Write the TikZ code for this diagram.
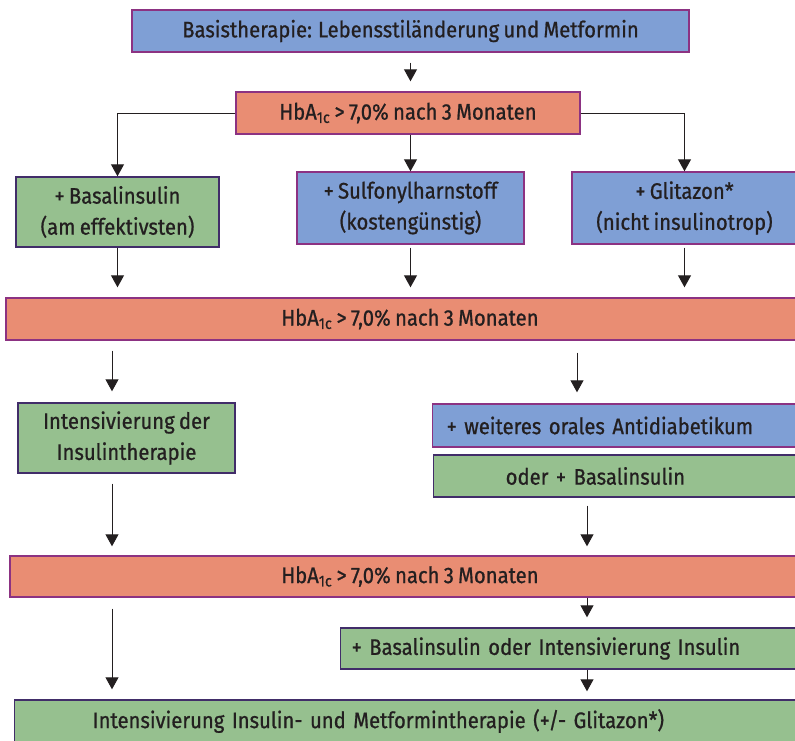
\documentclass[tikz,border=0pt]{standalone}
\usepackage{fontspec}
\setmainfont{Fira Sans}[FakeStretch=0.9, FakeBold=0.8, WordSpace=0.8]
\usetikzlibrary{arrows.meta,positioning,calc}

\definecolor{boxblue}{RGB}{127,159,213}
\definecolor{boxred}{RGB}{233,141,115}
\definecolor{boxgreen}{RGB}{150,192,143}
\definecolor{rimpurple}{RGB}{140,50,130}
\definecolor{rimdark}{RGB}{65,45,105}
\definecolor{inkblack}{RGB}{35,31,32}
\newcommand\boxfont{\fontsize{22.5}{31}\selectfont}

\begin{document}
\begin{tikzpicture}[x=1pt,y=-1pt,>={Triangle[width=13pt,length=12pt]}]
	\tikzset{
	  basic/.style   = {draw, line width=1.4pt, font=\boxfont, text=inkblack,
	                    inner sep=0pt, rectangle, align=center},
	  therapy/.style = {basic, fill=boxblue, draw=rimpurple},
	  control/.style = {basic, fill=boxred, draw=rimpurple},
	  insulin/.style = {basic, fill=boxgreen, draw=rimdark},
	  link/.style    = {->, draw=inkblack, line width=1pt}
	}
	\useasboundingbox (0,0) rectangle (795,740);

	\coordinate (colA) at (112,0);
	\coordinate (colB) at (577,0);
	\coordinate (colC) at (587,0);

	% first step and first check
	\node[therapy, minimum width=557pt, minimum height=42pt] (basis) at (410.5,31)
	  {Basistherapie: Lebensstiländerung und Metformin};
	\node[control, minimum width=344pt, minimum height=42pt] (hba1) at (408,113)
	  {HbA\textsubscript{1c} > 7,0\% nach 3 Monaten};

	% the three options
	\node[insulin, minimum width=203pt, minimum height=70pt] (basal) at (117.5,212)
	  {+ Basalinsulin\\(am effektivsten)};
	\node[therapy, minimum width=227pt, minimum height=72pt] (sulf) at (410.5,208)
	  {+ Sulfonylharnstoff\\(kostengünstig)};
	\node[therapy, minimum width=225pt, minimum height=72pt] (glit) at (684.5,208)
	  {+ Glitazon*\\(nicht insulinotrop)};

	% second check
	\node[control, minimum width=808pt, minimum height=42pt] (hba2) at (410,319)
	  {HbA\textsubscript{1c} > 7,0\% nach 3 Monaten};
	\node[insulin, minimum width=217pt, minimum height=70pt] (intens) at (126.5,438)
	  {Intensivierung der\\Insulintherapie};
	\node[therapy, anchor=west, align=left, text width=440pt, inner xsep=14pt,
	      minimum height=43pt] (oral) at (432,425.5)
	  {+ weiteres orales Antidiabetikum};
	\node[insulin, anchor=west, align=left, text width=300pt, inner xsep=72pt,
	      minimum height=42pt] (oder) at (433,476)
	  {oder + Basalinsulin};

	% third check
	\node[control, minimum width=800pt, minimum height=41pt] (hba3) at (410,576.5)
	  {HbA\textsubscript{1c} > 7,0\% nach 3 Monaten};
	\node[insulin, anchor=west, align=left, text width=530pt, inner xsep=11pt,
	      minimum height=41pt] (plus) at (340,648.5)
	  {+ Basalinsulin oder Intensivierung Insulin};
	\node[insulin, anchor=west, align=left, text width=720pt, inner xsep=78pt,
	      minimum height=42pt] (final) at (14,721)
	  {Intensivierung Insulin- und Metformintherapie (+/- Glitazon*)};

	% connectors
	\draw[link, shorten <=10pt, shorten >=10pt] (basis.south) -- (basis.south |- hba1.north);
	\draw[link] (hba1.west) -| (basal.north);
	\draw[link] (sulf.north |- hba1.south) -- (sulf.north);
	\draw[link] (hba1.east) -| (glit.north);
	\draw[link, shorten >=10pt] (basal.south) -- (basal.south |- hba2.north);
	\draw[link, shorten <=3pt, shorten >=10pt] (sulf.south) -- (sulf.south |- hba2.north);
	\draw[link, shorten <=3pt, shorten >=10pt] (glit.south) -- (glit.south |- hba2.north);
	\draw[link, shorten <=10pt, shorten >=11pt] (hba2.south -| colA) -- (intens.north -| colA);
	\draw[link, shorten <=12pt, shorten >=11pt] (hba2.south -| colB) -- (oral.north -| colB);
	\draw[link, shorten <=10pt, shorten >=9pt] (intens.south -| colA) -- (hba3.north -| colA);
	\draw[link, shorten <=8pt, shorten >=9pt] (oder.south -| colC) -- (hba3.north -| colC);
	\draw[link, shorten >=10pt] (hba3.south -| colC) -- (plus.north -| colC);
	\draw[link, shorten <=11pt, shorten >=10pt] (hba3.south -| colA) -- (final.north -| colA);
	\draw[link, shorten >=8pt] (plus.south -| colC) -- (final.north -| colC);
\end{tikzpicture}
\end{document}
